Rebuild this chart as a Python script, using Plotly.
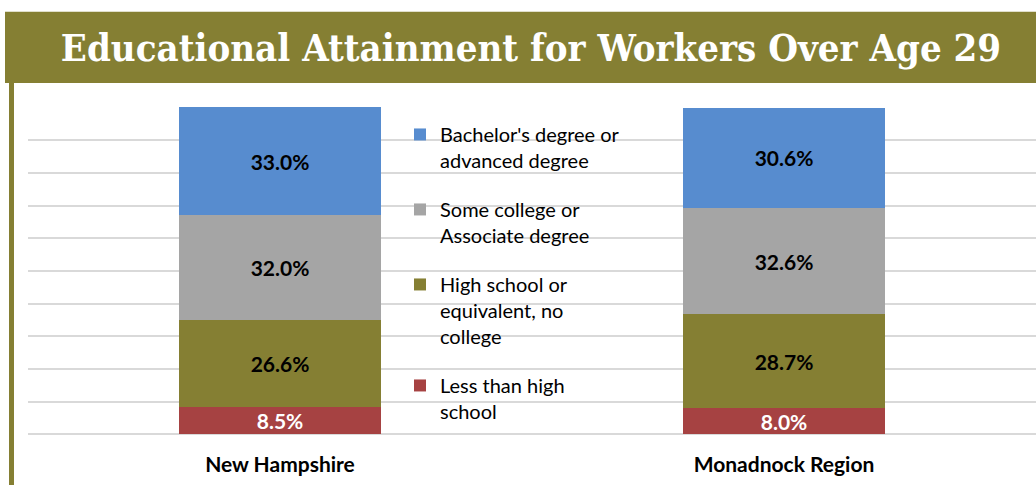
import plotly.graph_objects as go

regions = ["New Hampshire", "Monadnock Region"]
series_names = [
    "Less than high<br>school",
    "High school or<br>equivalent, no<br>college",
    "Some college or<br>Associate degree",
    "Bachelor's degree or<br>advanced degree",
]
less_hs = [8.5, 8.0]
high_school = [26.6, 28.7]
some_college = [32.0, 32.6]
bachelors = [33.0, 30.6]
values = [less_hs, high_school, some_college, bachelors]
colors = ["#A64242", "#857F33", "#A5A5A5", "#578CCF"]
text_colors = ["white", "black", "black", "black"]
legend_ranks = [4, 3, 2, 1]

W, H = 1036, 485
Y_LO, Y_HI = -0.2, 100.2
# plot area chosen so that 0% sits at y=434 px and 100% at y=107.7 px
upx = (434 - 107.7) / 100.0
L, R = 28, 0
B = H - (434 + (0 - Y_LO) * upx)
T = 107.7 - (Y_HI - 100) * upx
pw, ph = W - L - R, H - T - B

def px_x(p):
    return (p - L) / pw

def px_y(p):
    return (H - B - p) / ph

fig = go.Figure()
for name, vals, col, tc, rk in zip(series_names, values, colors, text_colors, legend_ranks):
    fig.add_trace(go.Bar(
        x=regions, y=vals, name=name, legendgroup=name, legendrank=rk,
        marker=dict(color=col, line=dict(width=0)),
        width=0.4,
        text=[f"{v:.1f}%" for v in vals],
        textposition="inside", insidetextanchor="middle", textangle=0,
        constraintext="none",
        textfont=dict(family="Lato", size=21, color=tc, weight="bold"),
        hoverinfo="skip",
    ))

shapes = [
    dict(type="rect", xref="paper", yref="paper",
         x0=px_x(5), x1=px_x(1036), y0=px_y(83), y1=px_y(12),
         fillcolor="#857F33", line=dict(width=0), layer="below"),
    dict(type="rect", xref="paper", yref="paper",
         x0=px_x(9), x1=px_x(14), y0=px_y(485), y1=px_y(83),
         fillcolor="#857F33", line=dict(width=0), layer="below"),
]

fig.update_layout(
    width=W, height=H,
    margin=dict(l=L, r=R, t=T, b=B),
    paper_bgcolor="white", plot_bgcolor="white",
    barmode="stack",
    shapes=shapes,
    title=dict(
        text="<b>Educational Attainment for Workers Over Age 29</b>",
        x=531 / W, xanchor="center", xref="container",
        y=1 - 48 / H, yanchor="middle", yref="container",
        font=dict(family="DejaVu Serif Condensed", size=38, color="white"),
    ),
    xaxis=dict(
        range=[-0.5, 1.5], showgrid=False, zeroline=False, showline=False,
        ticks="", tickfont=dict(family="Lato", size=21, color="black", weight="bold"),
        ticklabelstandoff=15,
    ),
    yaxis=dict(
        range=[Y_LO, Y_HI], dtick=10, tick0=0, showgrid=True, gridcolor="#D9D9D9", gridwidth=1.5,
        zeroline=True, zerolinecolor="#D9D9D9", zerolinewidth=1.5,
        showticklabels=False, ticks="",
    ),
    legend=dict(
        x=px_x(400), xanchor="left", y=px_y(115), yanchor="top",
        traceorder="grouped", tracegroupgap=20, valign="top",
        font=dict(family="Lato", size=20, color="black"),
        bgcolor="rgba(0,0,0,0)",
    ),
    showlegend=True,
)

fig.write_html("out.html", config={"displayModeBar": False},
               post_script="document.body.style.margin='0';")
